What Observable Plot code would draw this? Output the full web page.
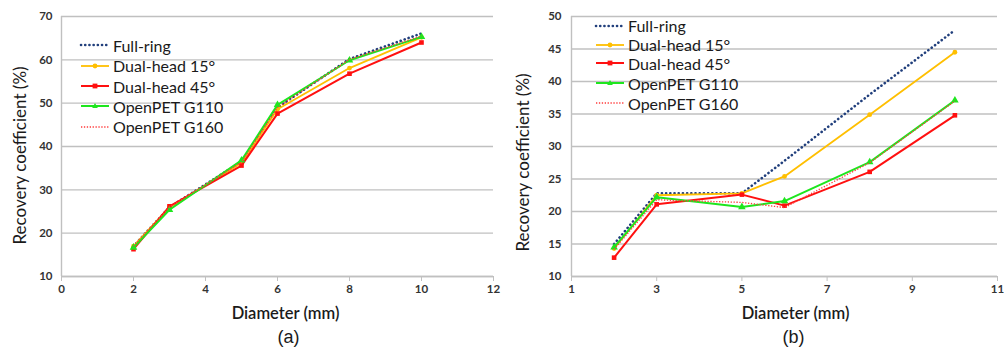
<!DOCTYPE html>
<html>
<head>
<meta charset="utf-8">
<script src="https://cdn.jsdelivr.net/npm/d3@7"></script>
<script src="https://cdn.jsdelivr.net/npm/@observablehq/plot@0.6"></script>
<style>
  html, body { margin: 0; padding: 0; background: #fff; }
  #wrap { position: relative; width: 1004px; height: 354px; display: flex; }
  .panel { position: relative; width: 502px; height: 354px; }
  .panel svg { overflow: visible; }
  .legend { position: absolute; font-family: Lato, "Open Sans", sans-serif; font-size: 16px; color: #1a1a1a; }
  .legend .row { position: absolute; left: 0; display: flex; align-items: center; white-space: nowrap; }
  .legend svg { display: block; margin-right: 4px; }
</style>
</head>
<body>
<div id="wrap"><div class="panel" id="pa"></div><div class="panel" id="pb"></div></div>
<script>
// Sphere diameters (mm)
const diameters = [2, 3, 5, 6, 8, 10];
const seriesNames = ["Full-ring", "Dual-head 15°", "Dual-head 45°", "OpenPET G110", "OpenPET G160"];

// Panel (a): recovery coefficient (%)
const a_fullRing = [17.0, 26.0, 36.5, 49.0, 60.2, 66.1];
const a_dual15   = [17.0, 26.0, 36.2, 48.6, 58.1, 65.2];
const a_dual45   = [16.3, 26.2, 35.6, 47.6, 56.8, 64.0];
const a_g110     = [16.7, 25.4, 36.8, 49.6, 59.9, 65.3];
const a_g160     = [17.0, 26.0, 36.4, 49.0, 60.1, 65.5];

// Panel (b): recovery coefficient (%)
const b_fullRing = [15.0, 22.8, 22.8, 27.8, 38.0, 47.9];
const b_dual15   = [14.3, 22.5, 22.8, 25.4, 34.9, 44.5];
const b_dual45   = [12.9, 21.1, 22.6, 20.9, 26.1, 34.8];
const b_g110     = [14.5, 22.2, 20.7, 21.6, 27.6, 37.1];
const b_g160     = [14.2, 21.8, 21.4, 20.6, 27.5, 37.0];

// Axis ticks
const a_xTicks = [0, 2, 4, 6, 8, 10, 12];
const a_yTicks = [10, 20, 30, 40, 50, 60, 70];
const b_xTicks = [1, 3, 5, 7, 9, 11];
const b_yTicks = [10, 15, 20, 25, 30, 35, 40, 45, 50];

// Series appearance
const styles = [
  {stroke: "#213f7c", width: 2.6, dash: "0.1 4.1", cap: "round", symbol: null},
  {stroke: "#ffbf00", width: 1.8, dash: null, cap: "butt", symbol: "circle", r: 2.4},
  {stroke: "#ff1010", width: 2.0, dash: null, cap: "butt", symbol: "square", r: 2.6},
  {stroke: "#1ee61e", width: 2.0, dash: null, cap: "butt", symbol: "triangle", r: 2.8},
  {stroke: "#ff3b3b", width: 1.3, dash: "1.3 1.6", cap: "butt", symbol: null}
];

const grid = "#c0c0c0";
const tickFont = "Lato, 'Open Sans', sans-serif";

function toRows(values) {
  return values.map((vals, s) => diameters.map((d, i) => ({series: seriesNames[s], d, v: vals[i]})));
}

function panel(cfg) {
  const rows = toRows(cfg.values);
  const marks = [
    Plot.gridY(cfg.yTicks, {stroke: grid, strokeOpacity: 1, strokeWidth: 1.4}),
    Plot.ruleX([cfg.xDomain[0]], {stroke: grid, strokeWidth: 1.4}),
    Plot.ruleY([cfg.yDomain[0]], {stroke: grid, strokeWidth: 1.4}),
    Plot.axisX(cfg.xTicks, {tickSize: 5, tickPadding: 3, stroke: grid, fill: "#333", fontSize: 11.5, fontWeight: "bold", label: null}),
    Plot.axisY(cfg.yTicks, {tickSize: 0, tickPadding: cfg.yPad, fill: "#333", fontSize: 11.5, fontWeight: "bold", label: null})
  ];
  rows.forEach((data, s) => {
    const st = styles[s];
    marks.push(Plot.line(data, {x: "d", y: "v", stroke: st.stroke, strokeWidth: st.width,
      strokeDasharray: st.dash, strokeLinecap: st.cap, strokeLinejoin: "round"}));
    if (st.symbol) {
      marks.push(Plot.dot(data, {x: "d", y: "v", symbol: st.symbol, r: st.r, fill: st.stroke, stroke: "none"}));
    }
  });
  marks.push(
    Plot.text(["Recovery coefficient (%)"], {frameAnchor: "left", text: d => d, rotate: -90,
      textAnchor: "middle", lineAnchor: "middle",
      dx: cfg.titleDx, dy: cfg.titleDy, fontSize: 17, fill: "#1a1a1a", fontFamily: tickFont}),
    Plot.text(["Diameter (mm)"], {frameAnchor: "bottom", text: d => d, dx: cfg.xLabelDx, dy: 37,
      lineAnchor: "middle", fontSize: 16.5, fontWeight: 600, fill: "#1a1a1a", fontFamily: tickFont}),
    Plot.text([cfg.tag], {frameAnchor: "bottom", text: d => d, dx: cfg.tagDx, dy: 61,
      lineAnchor: "middle", fontSize: 18, fill: "#1a1a1a", fontFamily: "'Liberation Sans', Arial, sans-serif"})
  );
  return Plot.plot({
    width: 502, height: 354,
    marginLeft: cfg.ml, marginRight: cfg.mr, marginTop: 16, marginBottom: 78,
    style: {fontFamily: tickFont, background: "transparent"},
    x: {domain: cfg.xDomain},
    y: {domain: cfg.yDomain},
    marks
  });
}

function legend(el, pos) {
  const box = document.createElement("div");
  box.className = "legend";
  box.style.left = pos.left + "px";
  box.style.top = "0px";
  seriesNames.forEach((name, s) => {
    const st = styles[s];
    const row = document.createElement("div");
    row.className = "row";
    row.style.top = (pos.rows[s] - 10) + "px";
    row.style.height = "20px";
    const w = 28;
    let sw = `<svg width="${w}" height="10"><line x1="0" x2="${w}" y1="5" y2="5" stroke="${st.stroke}" stroke-width="${st.width}"` +
      (st.dash ? ` stroke-dasharray="${st.dash}"` : "") + ` stroke-linecap="${st.cap}"/>`;
    if (st.symbol === "circle") sw += `<circle cx="${w/2}" cy="5" r="2.4" fill="${st.stroke}"/>`;
    if (st.symbol === "square") sw += `<rect x="${w/2-2.4}" y="2.6" width="4.8" height="4.8" fill="${st.stroke}"/>`;
    if (st.symbol === "triangle") sw += `<path d="M${w/2},2 L${w/2+2.8},7 L${w/2-2.8},7Z" fill="${st.stroke}"/>`;
    sw += `</svg>`;
    row.innerHTML = sw + `<span>${name}</span>`;
    box.appendChild(row);
  });
  el.appendChild(box);
}

const pa = document.getElementById("pa");
pa.appendChild(panel({
  values: [a_fullRing, a_dual15, a_dual45, a_g110, a_g160],
  xTicks: a_xTicks, yTicks: a_yTicks, xDomain: [0, 12], yDomain: [10, 70],
  ml: 61, mr: 9, yPad: 9, titleDx: -41, titleDy: 9, xLabelDx: 8, tagDx: 11, tag: "(a)"
}));
legend(pa, {left: 81, rows: [45, 65.7, 86, 106, 126.7]});

const pb = document.getElementById("pb");
pb.appendChild(panel({
  values: [b_fullRing, b_dual15, b_dual45, b_g110, b_g160],
  xTicks: b_xTicks, yTicks: b_yTicks, xDomain: [1, 11], yDomain: [10, 50],
  ml: 69, mr: 7, yPad: 10, titleDx: -48, titleDy: 16, xLabelDx: 11, tagDx: 9, tag: "(b)"
}));
legend(pb, {left: 94, rows: [25.7, 44.7, 63.3, 83.3, 103.3]});
</script>
</body>
</html>
